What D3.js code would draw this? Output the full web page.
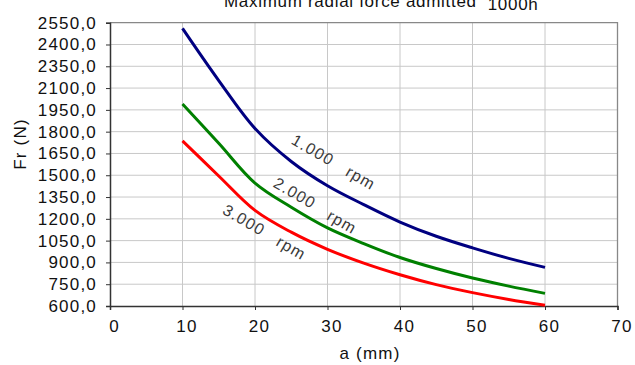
<!DOCTYPE html>
<html>
<head>
<meta charset="utf-8">
<script src="https://cdn.jsdelivr.net/npm/d3@7"></script>
<style>
  body { margin: 0; background: #fff; }
  svg { display: block; font-family: "Liberation Sans", Arial, sans-serif; letter-spacing: 1.2px; }
</style>
</head>
<body>
<div id="chart"></div>
<script>
// values
var aValues = [10, 15, 20, 25, 30, 35, 40, 45, 50, 55, 60];
var fr1000 = [2511, 2152, 1822, 1595, 1428, 1298, 1178, 1080, 1000, 928, 866];
var fr2000 = [1990, 1720, 1446, 1280, 1138, 1030, 934, 858, 793, 737, 687];
var fr3000 = [1737, 1495, 1258, 1108, 990, 895, 815, 747, 692, 645, 605];
var seriesNames = ["1.000", "2.000", "3.000"];
var xTicks = [0, 10, 20, 30, 40, 50, 60, 70];
var yTicks = [600, 750, 900, 1050, 1200, 1350, 1500, 1650, 1800, 1950, 2100, 2250, 2400, 2550];
var yTickLabels = ["600,0", "750,0", "900,0", "1050,0", "1200,0", "1350,0", "1500,0",
                   "1650,0", "1800,0", "1950,0", "2100,0", "2350,0", "2400,0", "2550,0"];

var width = 635, height = 365;
var colors = ["#000080", "#008000", "#ff0000"];

var svg = d3.select("#chart").append("svg")
  .attr("width", width).attr("height", height);

var x = d3.scaleLinear().domain([0, 70]).range([110, 617.5]);
var y = d3.scaleLinear().domain([600, 2550]).range([306, 22.7]);

// grid
svg.append("g").selectAll("line.v")
  .data(xTicks.slice(1, -1))
  .enter().append("line")
  .attr("x1", function(d) { return x(d); }).attr("x2", function(d) { return x(d); })
  .attr("y1", y(2550)).attr("y2", y(600))
  .attr("stroke", "#c8c8c8").attr("stroke-width", 1);

svg.append("g").selectAll("line.h")
  .data(yTicks.slice(1, -1))
  .enter().append("line")
  .attr("x1", x(0)).attr("x2", x(70))
  .attr("y1", function(d) { return y(d); }).attr("y2", function(d) { return y(d); })
  .attr("stroke", "#c8c8c8").attr("stroke-width", 1);

// top and right frame
svg.append("path")
  .attr("d", "M" + x(0) + "," + y(2550) + "H" + x(70) + "V" + y(600))
  .attr("fill", "none").attr("stroke", "#888").attr("stroke-width", 1.3);

// axes
var xAxis = d3.axisBottom(x).tickValues(xTicks).tickSize(4).tickPadding(10);
var gx = svg.append("g").attr("transform", "translate(0," + y(600) + ")").call(xAxis);
gx.select(".domain").attr("stroke", "#333").attr("stroke-width", 1.5);
gx.selectAll(".tick line").attr("stroke", "#333");
gx.selectAll(".tick text").attr("font-size", 17).attr("fill", "#111")
  .attr("font-family", "Liberation Sans, Arial, sans-serif").attr("dx", 4);

var yAxis = d3.axisLeft(y).tickValues(yTicks).tickSize(4).tickPadding(9)
  .tickFormat(function(d, i) { return yTickLabels[i]; });
var gy = svg.append("g").attr("transform", "translate(" + x(0) + ",0)").call(yAxis);
gy.select(".domain").attr("stroke", "#333").attr("stroke-width", 1.5);
gy.selectAll(".tick line").attr("stroke", "#333");
gy.selectAll(".tick text").attr("font-size", 17).attr("fill", "#111")
  .attr("font-family", "Liberation Sans, Arial, sans-serif");

// curves
var allSeries = [fr1000, fr2000, fr3000];
var line = d3.line()
  .x(function(d) { return x(d[0]); })
  .y(function(d) { return y(d[1]); })
  .curve(d3.curveCatmullRom.alpha(0.5));

svg.append("g").selectAll("path")
  .data(allSeries)
  .enter().append("path")
  .attr("d", function(s) { return line(aValues.map(function(a, i) { return [a, s[i]]; })); })
  .attr("fill", "none")
  .attr("stroke", function(d, i) { return colors[i]; })
  .attr("stroke-width", 3);

// rotated curve labels (anchor in data units)
var labelPos = [
  { num: [28.0, 1673], rpm: [34.6, 1481] },
  { num: [25.5, 1377], rpm: [32.0, 1178] },
  { num: [18.5, 1192], rpm: [25.0, 999] }
];
labelPos.forEach(function(p, i) {
  [[p.num, seriesNames[i]], [p.rpm, "rpm"]].forEach(function(t) {
    var px = x(t[0][0]), py = y(t[0][1]);
    svg.append("text")
      .attr("transform", "translate(" + px + "," + py + ") rotate(30)")
      .attr("text-anchor", "middle")
      .attr("dominant-baseline", "central")
      .attr("font-size", 16)
      .attr("fill", "#3a3a3a")
      .text(t[1]);
  });
});

// titles
var title = svg.append("text")
  .attr("x", 224).attr("y", 7)
  .attr("font-size", 17).attr("fill", "#111")
  .style("letter-spacing", "0.7px");
title.append("tspan").text("Maximum radial force admitted");
title.append("tspan").attr("dx", 11).attr("dy", 3).text("1000h");

svg.append("text")
  .attr("x", 370).attr("y", 359)
  .attr("text-anchor", "middle")
  .attr("font-size", 17).attr("fill", "#111")
  .text("a (mm)");

svg.append("text")
  .attr("transform", "translate(26,144) rotate(-90)")
  .attr("text-anchor", "middle")
  .attr("font-size", 17).attr("fill", "#111")
  .text("Fr (N)");
</script>
</body>
</html>
